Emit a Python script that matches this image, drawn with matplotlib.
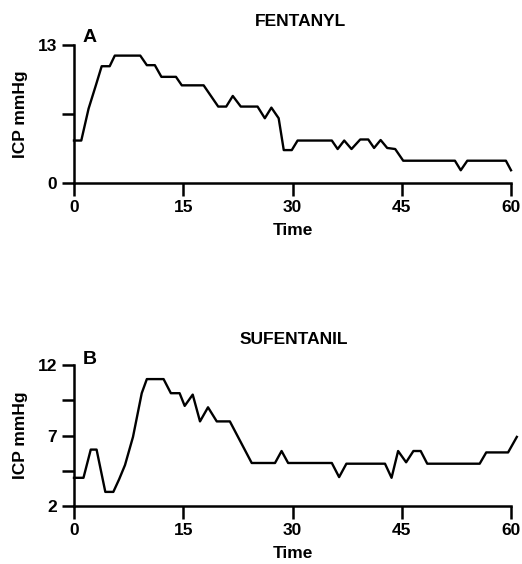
import matplotlib
matplotlib.use("Agg")
import matplotlib.pyplot as plt

plt.rcParams['font.family'] = ['Liberation Sans', 'DejaVu Sans']
plt.rcParams['font.weight'] = 'bold'

# Panel A: Fentanyl
fent_time = [0, 1, 2, 3, 3.8, 4.9, 5.6, 9.1, 10, 11.1, 12, 14, 14.8, 17.8, 19.8, 20.9,
             21.8, 22.9, 25.2, 26.2, 27.1, 28.1, 28.8, 29.9, 30.7, 35.4, 36.2, 37.1,
             38.1, 39.3, 40.4, 41.2, 42.1, 43, 44.1, 45.2, 52.3, 53.1, 54, 59.3, 60]
fent_icp = [4, 4, 7, 9.2, 11, 11, 12, 12, 11.1, 11.1, 10, 10, 9.2, 9.2, 7.2, 7.2,
            8.2, 7.2, 7.2, 6.1, 7.1, 6.1, 3.1, 3.1, 4, 4, 3.2, 4,
            3.2, 4.1, 4.1, 3.3, 4.05, 3.3, 3.2, 2.1, 2.1, 1.2, 2.1, 2.1, 1.2]

# Panel B: Sufentanil
sufe_time = [0, 1.3, 2.3, 3.1, 4.3, 5.4, 6.2, 7.0, 8.1, 9.3, 10, 12.3, 13.3, 14.5,
             15.2, 16.3, 17.3, 18.4, 19.6, 21.4, 24.4, 27.6, 28.5, 29.4, 35.4, 36.4,
             37.4, 42.7, 43.6, 44.5, 45.6, 46.6, 47.6, 48.5, 55.7, 56.6, 59.6, 60.8]
sufe_icp = [4, 4, 6, 6, 3, 3, 3.9, 4.9, 6.9, 10, 11, 11, 10, 10,
            9.1, 9.9, 8, 9, 8, 8, 5.05, 5.05, 5.9, 5.05, 5.05, 4.05,
            5, 5, 4, 5.9, 5.1, 5.9, 5.9, 5, 5, 5.8, 5.8, 6.9]

x_ticks = [0, 15, 30, 45, 60]
a_yticks = [0, 6.5, 13]
a_ylabels = ['0', '', '13']
b_yticks = [2, 4.5, 7, 9.5, 12]
b_ylabels = ['2', '', '7', '', '12']

W, H = 522, 564
fig = plt.figure(figsize=(W / 100, H / 100), dpi=100)

def add_axes(left, top, right, bottom):
    return fig.add_axes([left / W, 1 - bottom / H, (right - left) / W, (bottom - top) / H])

axA = add_axes(74, 45, 511, 183)
axB = add_axes(74, 365, 511, 506)

def style(ax, yticks, ylabels, ylim):
    ax.set_xlim(0, 60)
    ax.set_ylim(*ylim)
    for s in ['top', 'right']:
        ax.spines[s].set_visible(False)
    for s in ['left', 'bottom']:
        ax.spines[s].set_linewidth(1.8)
    ax.set_xticks(x_ticks)
    ax.set_yticks(yticks)
    ax.set_yticklabels(ylabels)
    ax.tick_params(axis='both', direction='out', length=9, width=1.8,
                   labelsize=12.5, pad=3)
    for lab in ax.get_xticklabels() + ax.get_yticklabels():
        lab.set_fontweight('bold')
    ax.set_xlabel('Time', fontsize=12.5, fontweight='bold', labelpad=6)
    ax.set_ylabel('ICP mmHg', fontsize=12.5, fontweight='bold', labelpad=7)

axA.plot(fent_time, fent_icp, color='black', lw=1.7, clip_on=False)
style(axA, a_yticks, a_ylabels, (0, 13))
axB.plot(sufe_time, sufe_icp, color='black', lw=1.7, clip_on=False)
style(axB, b_yticks, b_ylabels, (2, 12))

fig.text(301 / W, 1 - 21 / H, 'FENTANYL', ha='center', va='center', fontsize=12.5, fontweight='bold')
fig.text(294 / W, 1 - 339 / H, 'SUFENTANIL', ha='center', va='center', fontsize=12.5, fontweight='bold')
fig.text(90 / W, 1 - 38 / H, 'A', ha='center', va='center', fontsize=14, fontweight='bold')
fig.text(90 / W, 1 - 359 / H, 'B', ha='center', va='center', fontsize=14, fontweight='bold')

fig.savefig('out.png', dpi=100)
